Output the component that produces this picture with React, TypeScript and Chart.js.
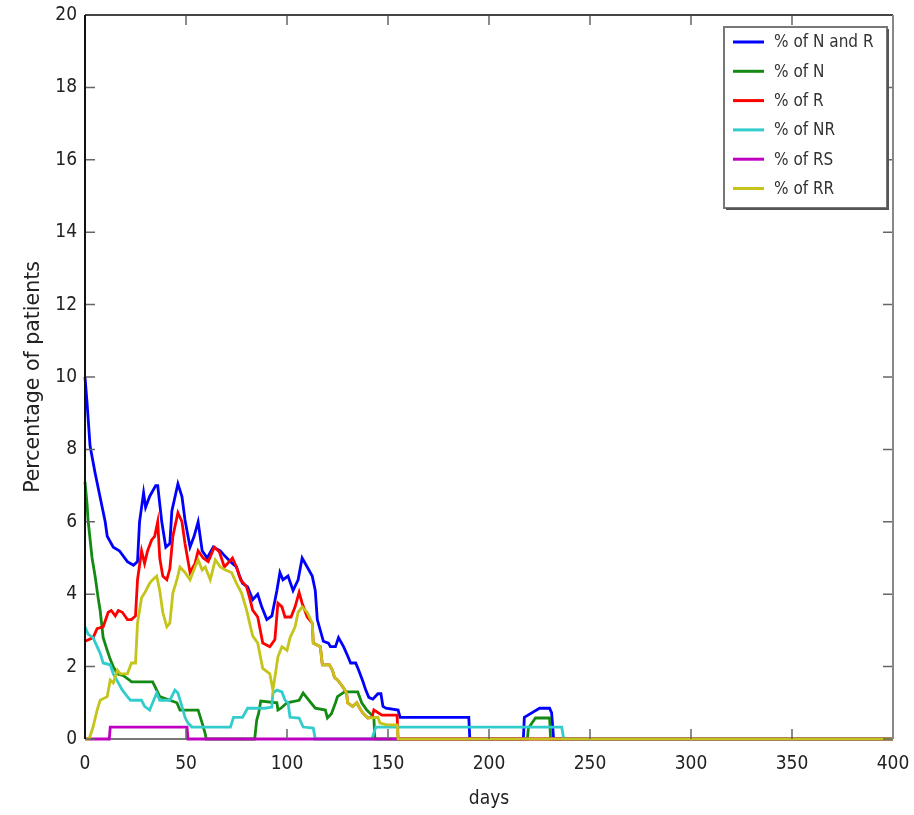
import React, { useEffect, useRef } from "react";
import { Chart, registerables } from "chart.js";

Chart.register(...registerables);

const xTicks = [0, 50, 100, 150, 200, 250, 300, 350, 400];
const yTicks = [0, 2, 4, 6, 8, 10, 12, 14, 16, 18, 20];
const seriesLabels = ["% of N and R", "% of N", "% of R", "% of NR", "% of RS", "% of RR"];

const pctNandR: [number, number][] = [
  [0, 10], [1, 9.3], [2.5, 8.1], [5, 7.35], [10, 6.0], [11, 5.6], [14, 5.3], [17, 5.2], [21, 4.9], [24, 4.8],
  [26, 4.9], [27, 6.0], [29, 6.8], [30, 6.4], [32, 6.7], [35, 7.0], [36, 7.0], [38, 6.0], [40, 5.3], [42, 5.4],
  [43, 6.3], [46, 7.05], [48, 6.7], [49.5, 6.05], [52, 5.3], [54, 5.6], [56, 6.0], [58, 5.2], [60.5, 5.0],
  [63.5, 5.3], [67, 5.2], [68.5, 5.1], [72, 4.9], [75, 4.75], [76.5, 4.5], [78, 4.3], [80.5, 4.2], [83, 3.85],
  [85.5, 4.0], [87.5, 3.65], [90, 3.3], [92.5, 3.4], [95, 4.1], [96.5, 4.6], [98, 4.4], [100.5, 4.5], [103, 4.1],
  [105.5, 4.4], [107.5, 5.0], [110, 4.75], [112.5, 4.5], [114, 4.1], [115, 3.3], [118, 2.7], [120.5, 2.65],
  [121.5, 2.55], [124, 2.55], [125.5, 2.8], [128, 2.55], [130, 2.3], [131.5, 2.1], [134, 2.1], [135.5, 1.9],
  [137.5, 1.6], [139, 1.35], [140.5, 1.15], [142.5, 1.1], [145, 1.25], [146.5, 1.25], [147.5, 0.9], [149, 0.85],
  [155, 0.8], [156, 0.6], [190, 0.6], [190.5, 0], [217, 0], [217.5, 0.6], [222, 0.75], [225, 0.85], [230, 0.85],
  [231, 0.72], [232, 0], [400, 0],
];

const pctN: [number, number][] = [
  [0, 7.1], [1, 6.5], [1.5, 6.05], [3.5, 5.0], [5, 4.5], [6.5, 3.9], [7.5, 3.55], [9, 2.8], [11, 2.45],
  [12.5, 2.2], [14, 2.0], [16, 1.8], [19, 1.75], [22, 1.63], [23, 1.58], [33.5, 1.58], [35.5, 1.35], [37, 1.17],
  [45.5, 1.0], [47, 0.8], [56, 0.8], [58, 0.44], [59.5, 0.15], [60, 0], [84, 0], [85, 0.52], [86, 0.72],
  [87, 1.05], [95, 1.0], [95.5, 0.8], [97, 0.85], [100, 1.0], [106, 1.07], [108, 1.27], [110, 1.13], [114, 0.85],
  [119, 0.8], [120, 0.58], [122, 0.7], [124, 1.0], [125, 1.17], [128.5, 1.3], [135, 1.3], [137, 1.0], [139.5, 0.8],
  [142, 0.66], [143, 0.6], [143.5, 0], [219, 0], [219.5, 0.3], [223, 0.58], [230, 0.58], [230.5, 0], [400, 0],
];

const pctR: [number, number][] = [
  [0, 2.7], [4, 2.8], [6, 3.05], [9, 3.1], [11.5, 3.5], [13, 3.55], [15, 3.4], [16.5, 3.55], [18.5, 3.5],
  [21, 3.3], [23, 3.3], [25, 3.4], [26, 4.4], [28, 5.2], [29.5, 4.85], [31, 5.2], [33, 5.5], [34.5, 5.6],
  [36, 6.0], [37, 5.0], [38.5, 4.5], [40.5, 4.4], [42, 4.7], [43.5, 5.6], [46, 6.25], [48, 6.0], [49.5, 5.4],
  [52, 4.6], [54.5, 4.85], [56, 5.2], [58.5, 5.0], [61, 4.9], [64, 5.3], [66.5, 5.17], [69, 4.75], [73, 5.0],
  [75, 4.75], [77, 4.4], [80, 4.2], [81.5, 3.9], [83, 3.56], [85.5, 3.37], [88, 2.65], [91.5, 2.55], [94, 2.75],
  [95.5, 3.75], [97.5, 3.65], [99, 3.37], [102, 3.37], [104, 3.65], [106, 4.05], [107.5, 3.75], [110, 3.37],
  [112.5, 3.2], [113, 2.65], [116.5, 2.55], [117.5, 2.05], [121, 2.05], [122.5, 1.9], [123.5, 1.7], [125, 1.63],
  [127.5, 1.45], [129.5, 1.27], [130, 1.0], [132.5, 0.9], [134.5, 1.0], [136, 0.85], [137.5, 0.72], [140, 0.58],
  [142, 0.6], [143, 0.8], [147, 0.66], [154.5, 0.66], [155, 0], [400, 0],
];

const pctNR: [number, number][] = [
  [0, 3.1], [1.5, 2.9], [4, 2.8], [6, 2.55], [7.5, 2.37], [9, 2.1], [12.5, 2.05], [14, 1.8], [16.5, 1.55],
  [18.5, 1.35], [21, 1.17], [22.5, 1.07], [28, 1.07], [29.5, 0.9], [32, 0.8], [33.5, 1.0], [35.5, 1.27],
  [37, 1.07], [42, 1.07], [44.5, 1.35], [46, 1.27], [48, 0.9], [49.5, 0.6], [51, 0.44], [53, 0.33], [72, 0.33],
  [73.5, 0.6], [78, 0.6], [80.5, 0.85], [89, 0.85], [92.5, 0.88], [93, 1.27], [95, 1.35], [97.5, 1.3],
  [99, 1.07], [100.5, 1.0], [101.5, 0.6], [106, 0.58], [108, 0.33], [113, 0.3], [114, 0], [142, 0],
  [144, 0.33], [236, 0.33], [237, 0], [400, 0],
];

const pctRS: [number, number][] = [
  [0, 0], [12, 0], [12.5, 0.33], [50.5, 0.33], [51, 0], [400, 0],
];

const pctRR: [number, number][] = [
  [0, 0], [2, 0], [4, 0.33], [6, 0.8], [7.5, 1.07], [11, 1.17], [12.5, 1.63], [14, 1.55], [16, 1.9],
  [17.5, 1.8], [21, 1.8], [23, 2.1], [25, 2.1], [26, 3.2], [28, 3.9], [29.5, 4.03], [32, 4.3], [33.5, 4.4],
  [35.5, 4.5], [37, 4.1], [38.5, 3.5], [40.5, 3.1], [42, 3.2], [43.5, 4.03], [45.5, 4.4], [47, 4.75],
  [49.5, 4.6], [52, 4.4], [54.5, 4.75], [56, 4.95], [58, 4.67], [59.5, 4.75], [62, 4.4], [64.5, 4.95],
  [67, 4.75], [69.5, 4.67], [72.5, 4.6], [75, 4.3], [77.5, 4.03], [80, 3.56], [81.5, 3.2], [83, 2.85],
  [85.5, 2.65], [88, 1.95], [91.5, 1.8], [93, 1.35], [94, 1.7], [95.5, 2.27], [97.5, 2.55], [100, 2.45],
  [101.5, 2.8], [104, 3.1], [105.5, 3.5], [107.5, 3.65], [110, 3.5], [112.5, 3.2], [113, 2.65], [116.5, 2.55],
  [117.5, 2.05], [121, 2.05], [122.5, 1.9], [123.5, 1.7], [125, 1.63], [127.5, 1.45], [129.5, 1.27], [130, 1.0],
  [132.5, 0.9], [134.5, 1.0], [136, 0.85], [137.5, 0.72], [140, 0.58], [145, 0.6], [146, 0.44], [149.5, 0.39],
  [154.5, 0.39], [155, 0], [400, 0],
];

const seriesData = [pctNandR, pctN, pctR, pctNR, pctRS, pctRR];
const seriesColors = ["#0000ff", "#138a13", "#ff0000", "#33cccc", "#c000c0", "#c4c41a"];

const FONT = "'DejaVu Sans Condensed', 'Liberation Sans', sans-serif";
const TITLE_FONT = "'DejaVu Sans', sans-serif";

const framePlugin = {
  id: "matlabFrame",
  afterDraw(chart: any) {
    const { ctx, chartArea } = chart;
    const { left, right, top, bottom } = chartArea;
    const xs = chart.scales.x;
    const ys = chart.scales.y;
    ctx.save();
    // ticks inward
    ctx.strokeStyle = "#666";
    ctx.lineWidth = 1.5;
    const tl = 10;
    xTicks.forEach((v) => {
      const px = xs.getPixelForValue(v);
      ctx.beginPath();
      ctx.moveTo(px, bottom);
      ctx.lineTo(px, bottom - tl);
      ctx.moveTo(px, top);
      ctx.lineTo(px, top + tl);
      ctx.stroke();
    });
    yTicks.forEach((v) => {
      const py = ys.getPixelForValue(v);
      ctx.beginPath();
      ctx.moveTo(left, py);
      ctx.lineTo(left + tl, py);
      ctx.moveTo(right, py);
      ctx.lineTo(right - tl, py);
      ctx.stroke();
    });
    // frame
    ctx.lineWidth = 2;
    ctx.strokeStyle = "#444";
    ctx.beginPath();
    ctx.moveTo(left, top);
    ctx.lineTo(right, top);
    ctx.stroke();
    ctx.strokeStyle = "#888";
    ctx.beginPath();
    ctx.moveTo(right, top);
    ctx.lineTo(right, bottom);
    ctx.stroke();
    ctx.strokeStyle = "#111";
    ctx.beginPath();
    ctx.moveTo(left, top);
    ctx.lineTo(left, bottom);
    ctx.stroke();

    // legend box
    const bw = 163;
    const bh = 181;
    const bx = right - 6 - bw;
    const by = top + 12;
    ctx.fillStyle = "#ffffff";
    ctx.fillRect(bx, by, bw, bh);
    ctx.strokeStyle = "#777";
    ctx.lineWidth = 2;
    ctx.strokeRect(bx, by, bw, bh);
    ctx.strokeStyle = "#555";
    ctx.beginPath();
    ctx.moveTo(bx + bw + 1, by + 2);
    ctx.lineTo(bx + bw + 1, by + bh + 1);
    ctx.lineTo(bx + 2, by + bh + 1);
    ctx.stroke();
    ctx.font = `17px ${FONT}`;
    ctx.textBaseline = "middle";
    ctx.textAlign = "left";
    chart.data.datasets.forEach((ds: any, i: number) => {
      const cy = by + 15 + i * 29.3;
      ctx.strokeStyle = ds.borderColor;
      ctx.lineWidth = 3;
      ctx.beginPath();
      ctx.moveTo(bx + 9, cy);
      ctx.lineTo(bx + 40, cy);
      ctx.stroke();
      ctx.fillStyle = "#333";
      ctx.fillText(ds.label, bx + 50, cy + 1);
    });
    ctx.restore();
  },
};

const bottomLinePlugin = {
  id: "bottomLine",
  beforeDatasetsDraw(chart: any) {
    const { ctx, chartArea } = chart;
    ctx.save();
    ctx.strokeStyle = "#777";
    ctx.lineWidth = 2;
    ctx.beginPath();
    ctx.moveTo(chartArea.left, chartArea.bottom);
    ctx.lineTo(chartArea.right, chartArea.bottom);
    ctx.stroke();
    ctx.restore();
  },
};

export default function App() {
  const ref = useRef<HTMLCanvasElement | null>(null);
  useEffect(() => {
    if (!ref.current) return;
    const n = seriesData.length;
    const chart = new Chart(ref.current, {
      type: "line",
      data: {
        datasets: seriesData.map((pts, i) => ({
          label: seriesLabels[i],
          data: pts.map(([x, y]) => ({ x, y })),
          borderColor: seriesColors[i],
          backgroundColor: seriesColors[i],
          borderWidth: 2.8,
          pointRadius: 0,
          tension: 0,
          fill: false,
          clip: false as any,
          order: n - i,
        })),
      },
      options: {
        animation: false,
        responsive: true,
        maintainAspectRatio: false,
        layout: { padding: { top: 15, right: 21, left: 0, bottom: 0 } },
        plugins: { legend: { display: false }, tooltip: { enabled: false } },
        scales: {
          x: {
            type: "linear",
            min: 0,
            max: 400,
            afterBuildTicks: (s: any) => {
              s.ticks = xTicks.map((v) => ({ value: v }));
            },
            afterFit: (s: any) => {
              s.height = 76;
              s.paddingLeft = 0;
              s.paddingRight = 0;
            },
            grid: { display: false, drawTicks: false },
            border: { display: false },
            ticks: { padding: 14, color: "#222", font: { family: FONT, size: 19 }, maxRotation: 0 },
            title: { display: true, text: "days", color: "#222", font: { family: FONT, size: 19 }, padding: { top: 0, bottom: 5 } },
          },
          y: {
            type: "linear",
            min: 0,
            max: 20,
            afterBuildTicks: (s: any) => {
              s.ticks = yTicks.map((v) => ({ value: v }));
            },
            afterFit: (s: any) => {
              s.width = 85;
              s.paddingTop = 0;
              s.paddingBottom = 0;
            },
            grid: { display: false, drawTicks: false },
            border: { display: false },
            ticks: { padding: 8, color: "#222", font: { family: FONT, size: 19 } },
            title: { display: true, text: "Percentage of patients", color: "#222", font: { family: TITLE_FONT, size: 20.5 }, padding: { top: 21, bottom: 0 } },
          },
        },
      },
      plugins: [bottomLinePlugin, framePlugin],
    });
    return () => chart.destroy();
  }, []);
  return (
    <div style={{ position: "absolute", left: 0, top: 0, width: 914, height: 815, background: "#fff" }}>
      <canvas ref={ref} />
    </div>
  );
}
